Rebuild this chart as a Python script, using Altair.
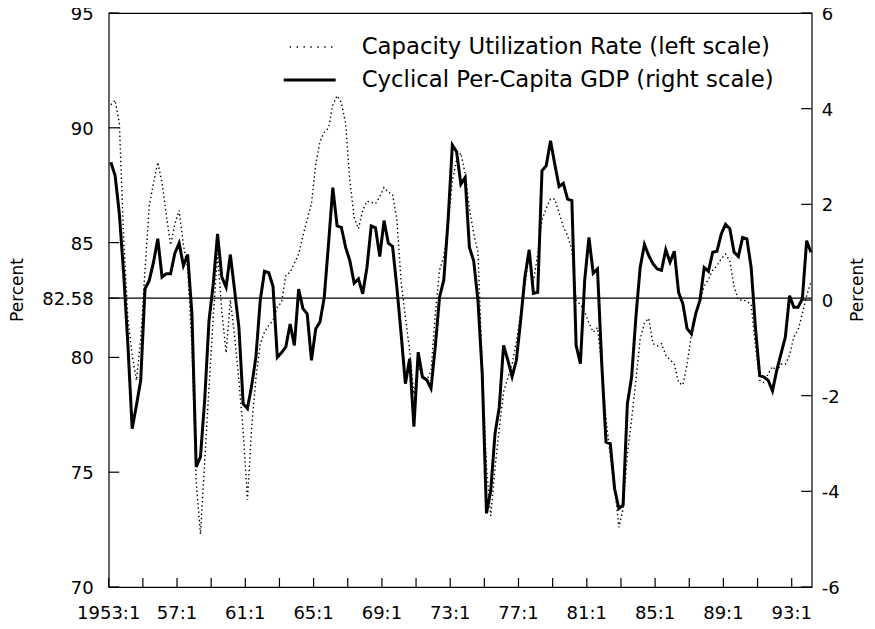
import altair as alt
import pandas as pd

# ---------------- data (quarterly, 1953:1 - 1994:1) ----------------
start_year = 1953

gdp_cycle = [
    2.88, 2.6, 1.8, 0.56, -0.94, -2.69, -2.2, -1.68, 0.23, 0.41,
    0.79, 1.28, 0.48, 0.55, 0.55, 0.98, 1.19, 0.72, 0.95, -0.29,
    -3.49, -3.28, -2.07, -0.43, 0.34, 1.38, 0.48, 0.27, 0.95, 0.2,
    -0.57, -2.17, -2.27, -1.79, -1.18, -0.01, 0.6, 0.57, 0.28, -1.2,
    -1.1, -0.98, -0.5, -0.95, 0.23, -0.18, -0.29, -1.26, -0.6, -0.46,
    0.06, 1.18, 2.35, 1.55, 1.52, 1.1, 0.82, 0.35, 0.44, 0.13,
    0.68, 1.55, 1.51, 0.91, 1.66, 1.19, 1.12, 0.27, -0.71, -1.75,
    -1.23, -2.65, -1.09, -1.61, -1.67, -1.85, -0.98, 0.06, 0.42, 1.66,
    3.24, 3.1, 2.42, 2.56, 1.1, 0.82, -0.01, -1.54, -4.46, -3.98,
    -2.79, -2.24, -0.95, -1.26, -1.6, -1.26, -0.43, 0.48, 1.05, 0.14,
    0.16, 2.7, 2.81, 3.33, 2.84, 2.37, 2.44, 2.11, 2.08, -0.95,
    -1.33, 0.41, 1.31, 0.56, 0.65, -1.33, -2.97, -3.0, -3.94, -4.36,
    -4.29, -2.17, -1.61, -0.36, 0.68, 1.16, 0.93, 0.76, 0.65, 0.62,
    1.05, 0.79, 1.02, 0.16, -0.08, -0.6, -0.71, -0.29, -0.01, 0.68,
    0.6, 1.0, 1.02, 1.38, 1.58, 1.49, 1.0, 0.91, 1.31, 1.28,
    0.68, -0.57, -1.58, -1.61, -1.68, -1.9, -1.47, -1.12, -0.78, 0.09,
    -0.15, -0.15, 0.03, 1.24, 1.0,
]

cap_util = [
    91.0, 91.2, 90.2, 85.2, 81.7, 80.1, 79.0, 80.8, 83.8, 86.6,
    87.6, 88.5, 87.6, 86.2, 84.9, 85.8, 86.4, 84.9, 83.9, 80.5,
    74.6, 72.3, 75.5, 78.7, 81.8, 84.5, 82.0, 80.2, 82.5, 80.9,
    79.0, 76.8, 73.8, 77.0, 79.1, 80.6, 81.1, 81.4, 81.6, 82.2,
    82.4, 83.6, 83.7, 84.1, 84.5, 85.3, 86.0, 86.7, 88.4, 89.4,
    89.8, 90.0, 91.0, 91.4, 91.1, 90.2, 87.7, 86.1, 85.6, 86.4,
    86.8, 86.75, 86.7, 87.0, 87.4, 87.2, 87.1, 86.0, 83.3, 81.75,
    80.3, 78.4, 79.6, 79.2, 79.0, 79.4, 81.9, 83.8, 84.4, 85.7,
    87.7, 88.6, 88.9, 88.0, 86.5, 85.4, 84.6, 79.6, 75.2, 73.1,
    75.2, 76.9, 78.5, 79.1, 79.7, 80.7, 81.9, 83.1, 84.6, 83.3,
    84.5, 86.0, 86.5, 86.9, 86.9, 86.3, 85.7, 85.3, 84.7, 82.5,
    82.3, 82.0, 81.5, 81.1, 81.3, 79.6, 77.3, 75.7, 74.4, 72.6,
    73.4, 75.8, 77.3, 79.0, 80.8, 81.5, 81.7, 80.6, 80.5, 80.6,
    80.1, 79.9, 79.7, 78.9, 78.8, 79.7, 81.0, 81.9, 82.5, 83.1,
    83.4, 83.8, 84.0, 84.3, 84.5, 84.2, 83.1, 82.5, 82.5, 82.45,
    82.3, 80.5, 79.0, 78.9, 79.3, 79.6, 79.4, 79.7, 79.7, 80.1,
    80.9, 81.2, 81.9, 82.7, 83.3,
]

cu_mean = 82.58

x_label_years = [1953, 1957, 1961, 1965, 1969, 1973, 1977, 1981, 1985, 1989, 1993]
x_label_text = ["1953:1", "57:1", "61:1", "65:1", "69:1", "73:1", "77:1", "81:1", "85:1", "89:1", "93:1"]
x_tick_years = list(range(1953, 1995, 2))

left_tick_values = [70, 75, 80, 82.58, 85, 90, 95]
left_tick_text = ["70", "75", "80", "82.58", "85", "90", "95"]
right_tick_values = [-6, -4, -2, 0, 2, 4, 6]
right_tick_text = ["-6", "-4", "-2", "0", "2", "4", "6"]

legend_labels = ["Capacity Utilization Rate (left scale)", "Cyclical Per-Capita GDP (right scale)"]
axis_title = "Percent"

# ---------------- table ----------------
n = len(gdp_cycle)
df = pd.DataFrame({
    "t": [start_year + (i + 0.5) / 4 for i in range(n)],
    "quarter": [f"{start_year + i // 4}:{i % 4 + 1}" for i in range(n)],
    "gdp": gdp_cycle,
    "cu": cap_util,
})

FONT = "DejaVu Sans"
W, H = 703, 574

x_scale = alt.Scale(domain=[1953, 1994.17], nice=False, zero=False)
yl_scale = alt.Scale(domain=[70, 95], nice=False, zero=False)
yr_scale = alt.Scale(domain=[-6, 6], nice=False, zero=False)

xlab_df = pd.DataFrame({"v": x_label_years, "lab": x_label_text})
ll_df = pd.DataFrame({"v": left_tick_values, "lab": left_tick_text})
rl_df = pd.DataFrame({"v": right_tick_values, "lab": right_tick_text})

base = alt.Chart(df)

cu_line = base.mark_line(color="black", strokeWidth=1.4, strokeDash=[1.4, 2.8]).encode(
    x=alt.X("t:Q", scale=x_scale, axis=None),
    y=alt.Y("cu:Q", scale=yl_scale, axis=None),
    order="t:Q",
)

mean_rule = alt.Chart(pd.DataFrame({"v": [cu_mean]})).mark_rule(color="black", strokeWidth=1.1).encode(
    y=alt.Y("v:Q", scale=yl_scale, axis=None),
)

left_ticks = alt.Chart(ll_df).mark_rule(color="black", strokeWidth=1.2).encode(
    y=alt.Y("v:Q", scale=yl_scale, axis=None),
    x=alt.value(0), x2=alt.value(10.5),
)

left_labels = alt.Chart(ll_df).mark_text(align="right", baseline="middle", font=FONT,
                                         fontSize=18, color="black", dy=2).encode(
    y=alt.Y("v:Q", scale=yl_scale, axis=None),
    x=alt.value(-15),
    text="lab:N",
)

x_ticks = alt.Chart(pd.DataFrame({"yr": x_tick_years})).mark_rule(color="black", strokeWidth=1.2).encode(
    x=alt.X("yr:Q", scale=x_scale, axis=None),
    y=alt.value(H), y2=alt.value(H - 9),
)

x_labels = alt.Chart(xlab_df).mark_text(align="center", baseline="middle", font=FONT,
                                        fontSize=18, color="black").encode(
    x=alt.X("v:Q", scale=x_scale, axis=None),
    y=alt.value(H + 27.5),
    text="lab:N",
)

left_title = alt.Chart(pd.DataFrame({"lab": [axis_title]})).mark_text(
    angle=270, align="center", baseline="middle", font=FONT, fontSize=17, color="black").encode(
    x=alt.value(-90.5), y=alt.value(277), text="lab:N")

gdp_line = base.mark_line(color="black", strokeWidth=3, strokeJoin="miter").encode(
    x=alt.X("t:Q", scale=x_scale, axis=None),
    y=alt.Y("gdp:Q", scale=yr_scale, axis=None),
    order="t:Q",
)

right_ticks = alt.Chart(rl_df).mark_rule(color="black", strokeWidth=1.2).encode(
    y=alt.Y("v:Q", scale=yr_scale, axis=None),
    x=alt.value(W - 10.5), x2=alt.value(W),
)

right_labels = alt.Chart(rl_df).mark_text(align="left", baseline="middle", font=FONT,
                                          fontSize=18, color="black", dy=2).encode(
    y=alt.Y("v:Q", scale=yr_scale, axis=None),
    x=alt.value(W + 10),
    text="lab:N",
)

right_title = alt.Chart(pd.DataFrame({"lab": [axis_title]})).mark_text(
    angle=270, align="center", baseline="middle", font=FONT, fontSize=17, color="black").encode(
    x=alt.value(W + 46.3), y=alt.value(277), text="lab:N")

leg_cu_rule = alt.Chart(pd.DataFrame({"label": [legend_labels[0]]})).mark_rule(
    color="black", strokeWidth=1.4, strokeDash=[1.4, 5.5]).encode(
    x=alt.value(181), x2=alt.value(224), y=alt.value(34))
leg_gdp_rule = alt.Chart(pd.DataFrame({"label": [legend_labels[1]]})).mark_rule(
    color="black", strokeWidth=3).encode(
    x=alt.value(175), x2=alt.value(227), y=alt.value(67))
leg_cu_text = alt.Chart(pd.DataFrame({"label": [legend_labels[0]]})).mark_text(
    align="left", baseline="middle", font=FONT, fontSize=22.8, color="black").encode(
    text="label:N", x=alt.value(253), y=alt.value(34))
leg_gdp_text = alt.Chart(pd.DataFrame({"label": [legend_labels[1]]})).mark_text(
    align="left", baseline="middle", font=FONT, fontSize=22.8, color="black").encode(
    text="label:N", x=alt.value(253), y=alt.value(67))

left_layer = alt.layer(cu_line, mean_rule, left_ticks, left_labels, x_ticks, x_labels, left_title)
right_layer = alt.layer(gdp_line, right_ticks, right_labels, right_title,
                        leg_cu_rule, leg_gdp_rule, leg_cu_text, leg_gdp_text)

chart = alt.layer(left_layer, right_layer).resolve_scale(y="independent").properties(
    width=W, height=H,
    autosize=alt.AutoSizeParams(type="none"),
    padding={"left": 100.7, "top": 5, "right": 55, "bottom": 38},
    background="white",
).configure_view(stroke="black", strokeWidth=1.2)

chart.save("out.html", embed_options={"renderer": "svg", "actions": False})
